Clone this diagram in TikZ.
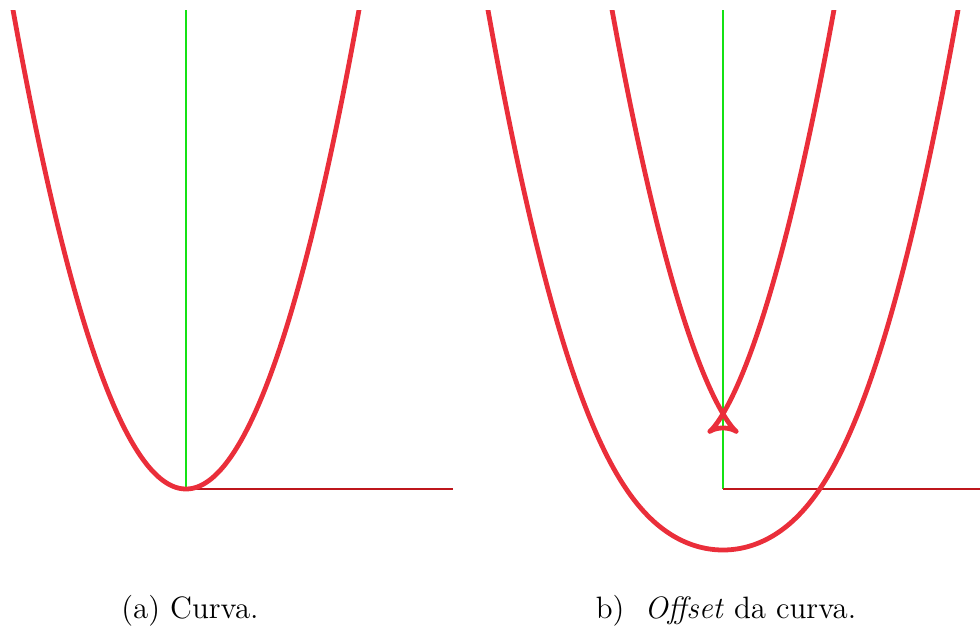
\documentclass[tikz,border=0pt]{standalone}
\usepackage{tikz}
\usetikzlibrary{positioning}
\definecolor{curvared}{RGB}{234,46,58}
\definecolor{axisred}{RGB}{190,22,28}
\definecolor{axisgreen}{RGB}{20,226,20}

\begin{document}
\begin{tikzpicture}[x=0.0125cm, y=-0.0125cm,
    curva/.style={curvared, line width=1.7pt, line join=round},
    eixoy/.style={axisgreen, line width=0.9pt},
    eixox/.style={axisred, line width=0.8pt},
    every node/.style={font=\fontsize{11}{13.6}\selectfont}]
        \useasboundingbox (0,0) rectangle (980,628);
        \coordinate (oa) at (186,489);
        \coordinate (ta) at (186,10);
        \coordinate (xa) at (453,489);
        \coordinate (ob) at (723,489);
        \coordinate (tb) at (723,10);
        \coordinate (xb) at (980,489);
        % (a) curva
        \begin{scope}
          \clip (0,10) rectangle (460,628);
          \draw[eixoy] (oa) -- (ta);
          \draw[eixox] (oa) -- (xa);
          \draw[curva] plot[domain=-190:190, samples=191, variable=\t]
            ({186+\t}, {489-(0.016*(\t))*(\t)});
        \end{scope}
        % (b) offset
        \begin{scope}
          \clip (470,10) rectangle (980,628);
          \draw[eixoy] (ob) -- (tb);
          \draw[eixox] (ob) -- (xb);
          \draw[curva] plot[domain=-200:200, samples=401, variable=\t]
            ({723+(\t)+1.952*(\t)/sqrt(1+(0.001024*(\t))*(\t))}, {489-(0.016*(\t))*(\t)+61/sqrt(1+(0.001024*(\t))*(\t))});
          \draw[curva] plot[domain=-200:200, samples=401, variable=\t]
            ({723+(\t)-1.952*(\t)/sqrt(1+(0.001024*(\t))*(\t))}, {489-(0.016*(\t))*(\t)-61/sqrt(1+(0.001024*(\t))*(\t))});
        \end{scope}
        \node[anchor=base] (capa) at (190,618) {(a) Curva.};
        \node[anchor=base] (capb) at (726,618) {b)\ \ \textit{Offset} da curva.};
      \end{tikzpicture}
\end{document}
